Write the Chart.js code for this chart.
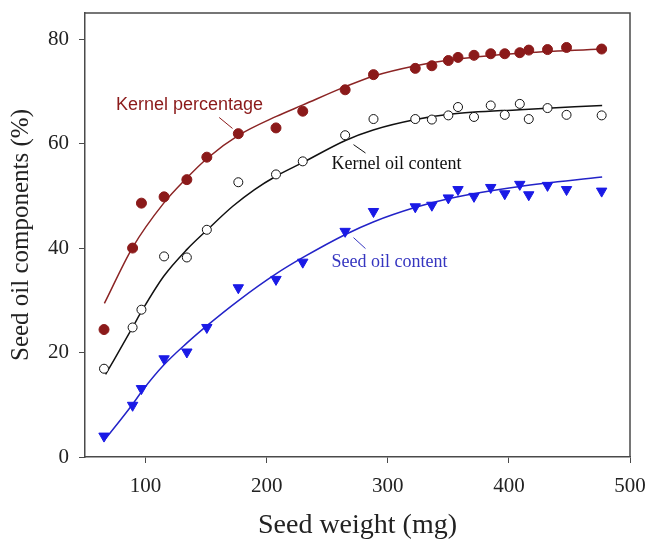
<!DOCTYPE html>
<html>
<head>
<meta charset="utf-8">
<script src="https://cdn.jsdelivr.net/npm/chart.js@4.4.1/dist/chart.umd.min.js"></script>
<style>
  html, body { margin: 0; padding: 0; background: #fff; }
  #wrap { width: 649px; height: 540px; position: relative; }
</style>
</head>
<body>
<div id="wrap"><canvas id="chart"></canvas></div>
<script>
// measured points (seed weight in mg, shared by the three series)
const seedWeight = [65.7, 89.3, 96.6, 115.3, 134.1, 150.6, 176.6, 207.7, 229.8, 264.8, 288.2, 322.7,
                    336.4, 350.0, 358.0, 371.2, 385.0, 396.6, 409.0, 416.4, 431.9, 447.6, 476.6];
const kernelPct  = [24.4, 40.0, 48.6, 49.8, 53.1, 57.4, 61.9, 63.0, 66.2, 70.3, 73.2, 74.4,
                    74.9, 75.9, 76.5, 76.9, 77.2, 77.2, 77.4, 77.9, 78.0, 78.4, 78.1];
const kernelOil  = [16.9, 24.8, 28.2, 38.4, 38.2, 43.5, 52.6, 54.1, 56.6, 61.6, 64.7, 64.7,
                    64.6, 65.4, 67.0, 65.1, 67.3, 65.5, 67.6, 64.7, 66.8, 65.5, 65.4];
const seedOil    = [4.0, 9.9, 13.1, 18.8, 20.1, 24.8, 32.4, 34.0, 37.3, 43.2, 47.0, 47.9,
                    48.2, 49.6, 51.2, 49.9, 51.6, 50.4, 52.2, 50.2, 52.0, 51.2, 50.9];

// fitted curves
const pctFitX = [66, 89, 115, 134, 151, 177, 208, 230, 265, 288, 323, 351, 409, 477];
const pctFitY = [29.4, 40.0, 48.6, 53.4, 57.2, 61.6, 65.2, 67.4, 70.9, 72.9, 74.9, 76.0, 77.3, 78.1];
const oilFitX = [67, 89, 97, 115, 134, 151, 172, 190, 208, 230, 265, 288, 323, 351, 409, 477];
const oilFitY = [15.8, 24.7, 28.0, 34.6, 39.7, 43.5, 48.0, 51.2, 53.8, 56.4, 60.6, 62.6, 64.6, 65.6, 66.5, 67.3];
const seedFitX = [66, 89, 97, 115, 134, 151, 177, 208, 230, 265, 288, 323, 351, 409, 477];
const seedFitY = [3.2, 10.0, 12.6, 17.6, 21.8, 25.2, 30.0, 35.1, 38.2, 42.6, 45.0, 47.8, 49.5, 51.8, 53.6];

const xTicks = [100, 200, 300, 400, 500];
const yTicks = [0, 20, 40, 60, 80];

const RED = "#8b1a1a";
const BLUE = "#1a1ae6";
const SERIF = "'Liberation Serif', 'Times New Roman', serif";
const SANS = "'Liberation Sans', Arial, sans-serif";
const AXIS = "#4a4a4a";

// in-plot labels, anchored in data units
const LABELS = [
  { text: "Kernel percentage", x: 75.6, y: 66.5, color: RED, font: "18px " + SANS,
    leader: [[160.8, 65.0], [171.8, 62.9]], leaderColor: RED },
  { text: "Kernel oil content", x: 253.5, y: 55.1, color: "#111", font: "18px " + SERIF,
    leader: [[271.7, 59.8], [281.6, 58.2]], leaderColor: "#111" },
  { text: "Seed oil content", x: 253.5, y: 36.3, color: "#3535c0", font: "18px " + SERIF,
    leader: [[271.7, 42.0], [281.6, 39.9]], leaderColor: "#3535c0" },
];

const pts = (xs, ys) => xs.map((x, i) => ({ x, y: ys[i] }));

const framePlugin = {
  id: "frame",
  afterDraw(chart) {
    const { ctx, chartArea: a, scales } = chart;
    ctx.save();
    ctx.strokeStyle = AXIS;
    ctx.lineWidth = 1.5;
    ctx.beginPath();
    ctx.moveTo(a.left, a.top);
    ctx.lineTo(a.right, a.top);
    ctx.lineTo(a.right, a.bottom);
    ctx.stroke();

    LABELS.forEach(l => {
      ctx.font = l.font;
      ctx.fillStyle = l.color;
      ctx.textBaseline = "alphabetic";
      ctx.textAlign = "left";
      ctx.fillText(l.text, scales.x.getPixelForValue(l.x), scales.y.getPixelForValue(l.y));
      ctx.strokeStyle = l.leaderColor;
      ctx.lineWidth = 1;
      ctx.beginPath();
      ctx.moveTo(scales.x.getPixelForValue(l.leader[0][0]), scales.y.getPixelForValue(l.leader[0][1]));
      ctx.lineTo(scales.x.getPixelForValue(l.leader[1][0]), scales.y.getPixelForValue(l.leader[1][1]));
      ctx.stroke();
    });
    ctx.restore();
  }
};

const fitLine = (data, color) => ({
  data, showLine: true, borderColor: color, borderWidth: 1.5,
  pointRadius: 0, cubicInterpolationMode: "monotone", fill: false,
});

new Chart(document.getElementById("chart"), {
  type: "scatter",
  data: {
    datasets: [
      { label: "Kernel percentage", data: pts(seedWeight, kernelPct),
        pointStyle: "circle", pointRadius: 5, backgroundColor: RED, borderColor: RED, borderWidth: 1 },
      { label: "Kernel oil content", data: pts(seedWeight, kernelOil),
        pointStyle: "circle", pointRadius: 4.5, backgroundColor: "#fff", borderColor: "#111", borderWidth: 1 },
      { label: "Seed oil content", data: pts(seedWeight, seedOil),
        pointStyle: "triangle", pointRotation: 180, pointRadius: 6, backgroundColor: BLUE, borderColor: BLUE, borderWidth: 1 },
      fitLine(pts(pctFitX, pctFitY), "#8b2424"),
      fitLine(pts(oilFitX, oilFitY), "#111"),
      fitLine(pts(seedFitX, seedFitY), "#2323c8"),
    ]
  },
  options: {
    responsive: true,
    maintainAspectRatio: false,
    animation: false,
    layout: { padding: { top: 13, right: 19, left: 0, bottom: 0 } },
    plugins: { legend: { display: false }, tooltip: { enabled: false } },
    scales: {
      x: {
        type: "linear", min: 50, max: 500,
        afterBuildTicks(scale) { scale.ticks = xTicks.map(v => ({ value: v })); },
        afterFit(scale) { scale.height = 83; scale.paddingLeft = 0; scale.paddingRight = 0; },
        grid: { drawOnChartArea: false, drawTicks: true, tickLength: 6, color: AXIS, lineWidth: 1 },
        border: { display: true, color: AXIS, width: 1.5 },
        ticks: { color: "#222", padding: 11, font: { family: SERIF, size: 21, lineHeight: 1.2 } },
        title: { display: true, text: "Seed weight (mg)", color: "#222",
                 padding: { top: 0, bottom: 0 }, font: { family: SERIF, size: 28, lineHeight: 1 } }
      },
      y: {
        type: "linear", min: 0, max: 85,
        afterBuildTicks(scale) { scale.ticks = yTicks.map(v => ({ value: v })); },
        afterFit(scale) { scale.width = 85; scale.paddingTop = 0; scale.paddingBottom = 0; },
        grid: { drawOnChartArea: false, drawTicks: true, tickLength: 6, color: AXIS, lineWidth: 1 },
        border: { display: true, color: AXIS, width: 1.5 },
        ticks: { color: "#222", padding: 10, font: { family: SERIF, size: 21 } },
        title: { display: true, text: "Seed oil components (%)", color: "#222",
                 padding: { top: 9, bottom: 0 }, font: { family: SERIF, size: 25, lineHeight: 1 } }
      }
    }
  },
  plugins: [framePlugin]
});
</script>
</body>
</html>
